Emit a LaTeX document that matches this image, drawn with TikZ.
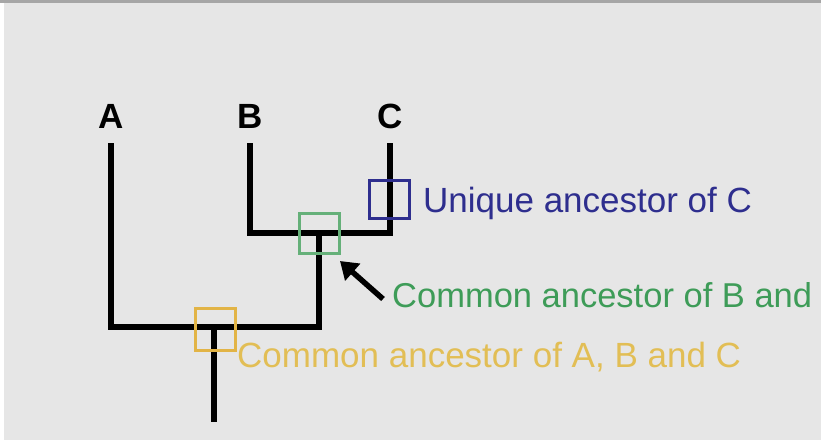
\documentclass[tikz,border=0pt]{standalone}
\usepackage{fontspec}
\setmainfont{Liberation Sans}
\usetikzlibrary{arrows.meta}
\definecolor{bgpaper}{HTML}{E6E6E6}
\definecolor{uniqblue}{HTML}{2E2E8E}
\definecolor{bcgreen}{HTML}{3E9C58}
\definecolor{abcgold}{HTML}{E2B446}
\definecolor{abctext}{HTML}{E2BE55}
\tikzset{
  branch/.style={line width=6.5pt, black, line cap=butt, line join=miter},
  taxon/.style={font=\fontsize{35}{38}\selectfont\bfseries, inner sep=0pt, anchor=south},
  marker/.style={draw, line width=3pt, minimum width=40pt, minimum height=38pt, inner sep=0pt},
  caption/.style={font=\fontsize{35}{38}\selectfont, inner sep=0pt, anchor=base west},
}
\begin{document}
\begin{tikzpicture}[x=1pt,y=-1pt]
  % page background and slide frame
  \fill[bgpaper] (0,0) rectangle (821,440);
  \fill[white] (0,0) rectangle (4,440);
  \fill[gray!70] (0,0) rectangle (821,2.5);
  \useasboundingbox (0,0) rectangle (821,440);

  % taxa labels
  \node[taxon] (A) at (111,129) {A};
  \node[taxon] (B) at (250,129) {B};
  \node[taxon] (C) at (390,129) {C};

  % branch points of the tree
  \coordinate (tipA) at (111,143);
  \coordinate (tipB) at (250,143);
  \coordinate (tipC) at (390,143);
  \coordinate (nodeBC) at (319,233);
  \coordinate (nodeABC) at (214,327);
  \coordinate (root) at (214,422);

  % tree branches
  \draw[branch] (tipB) |- (nodeBC) -| (tipC);
  \draw[branch] (tipA) |- (nodeABC) -| (nodeBC);
  \draw[branch] (nodeABC) -- (root);

  % ancestor markers
  \node[marker, draw=uniqblue] (uniq) at (389,199) {};
  \node[marker, draw=bcgreen!80, minimum height=40pt] (cbc) at (319,233) {};
  \node[marker, draw=abcgold, minimum height=42pt] (cabc) at (215,329) {};

  % captions
  \node[caption, text=uniqblue] (tuniq) at (423,212) {Unique ancestor of C};
  \node[caption, text=bcgreen, font=\fontsize{34.5}{38}\selectfont] (tbc) at (392,307) {Common ancestor of B and};
  \node[caption, text=abctext] (tabc) at (237,367) {Common ancestor of A, B and C};

  % pointer to the B--C ancestor
  \coordinate (ptrTail) at (383,299);
  \coordinate (ptrHead) at (340,261);
  \draw[line width=5.5pt, -{Triangle[length=17pt,width=22pt]}] (ptrTail) -- (ptrHead);
\end{tikzpicture}
\end{document}
